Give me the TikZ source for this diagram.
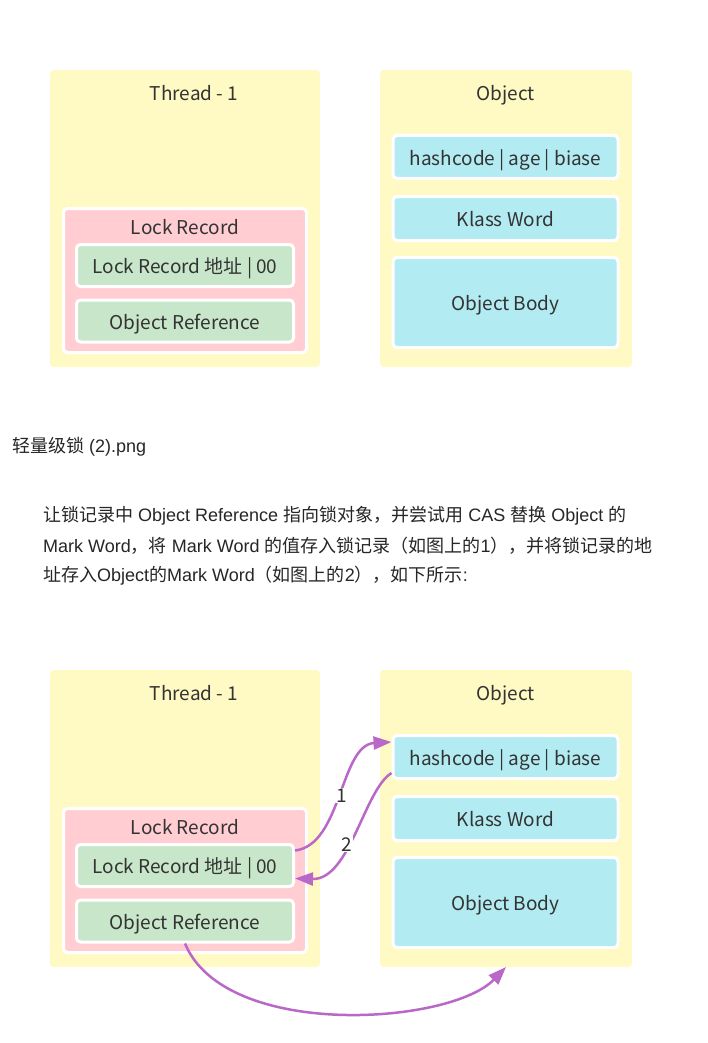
\documentclass[tikz,border=0pt]{standalone}
\usepackage{fontspec}
\setmainfont{Liberation Sans}
\newfontfamily\cjk{Noto Sans CJK SC}
\usetikzlibrary{arrows.meta, calc}
\definecolor{threadcolor}{HTML}{FFF9C4}
\definecolor{lockcolor}{HTML}{FFCDD2}
\definecolor{wordcolor}{HTML}{C8E6C9}
\definecolor{objcolor}{HTML}{B2EBF2}
\definecolor{arrowcolor}{HTML}{BA68C8}
\definecolor{textcolor}{HTML}{333333}
\newcommand\diagfont{\cjk\fontsize{19}{22}\selectfont}
\newcommand\parafont{\fontsize{18}{22}\selectfont}

\begin{document}
\begin{tikzpicture}[
    x=1pt, y=-1pt,
    frame/.style={fill=threadcolor, rounded corners=4pt, inner sep=0pt, outer sep=0pt},
    block/.style={draw=white, line width=3pt, rounded corners=4pt, inner sep=0pt, font=\diagfont, text=textcolor, text height=17pt, text depth=0.5pt},
    title/.style={font=\diagfont, text=textcolor, inner sep=0pt, anchor=base},
    para/.style={font=\parafont, text=black!85, anchor=west, inner sep=0pt},
    link/.style={draw=arrowcolor, line width=2.5pt, -{Triangle[length=18pt, width=13pt]}},
    numlabel/.style={fill=white, font=\diagfont, text=textcolor, inner sep=1pt},
]
    \path[fill=white, use as bounding box] (0, 0) rectangle (708, 1043);

    % Thread - 1 (before)
    \node[frame, minimum width=270pt, minimum height=297pt] (thread) at (185, 218.5) {};
    \node[title] (threadname) at (194, 100.5) {Thread - 1};
    \node[block, fill=lockcolor, minimum width=243pt, minimum height=144pt] (lockrec) at (185, 280.5) {};
    \node[title] (lockname) at (185, 234) {Lock Record};
    \node[block, fill=wordcolor, minimum width=217pt, minimum height=42pt] (lraddr) at (185, 265.5) {Lock Record 地址 | 00};
    \node[block, fill=wordcolor, minimum width=217pt, minimum height=42pt] (objref) at (185, 321) {Object Reference};

    % Object (before)
    \node[frame, minimum width=252pt, minimum height=297pt] (object) at (506, 218.5) {};
    \node[title] (objname) at (506, 100.5) {Object};
    \node[block, fill=objcolor, minimum width=225pt, minimum height=43pt] (markword) at (505.5, 157) {hashcode | age | biase};
    \node[block, fill=objcolor, minimum width=225pt, minimum height=44pt] (klass) at (505.5, 218.5) {Klass Word};
    \node[block, fill=objcolor, minimum width=225pt, minimum height=90pt] (body) at (505.5, 302.5) {Object Body};

    % Text
    \node[para] (caption) at (12, 447) {{\cjk 轻量级锁} (2).png};
    \node[para] (line1) at (43, 516) {{\cjk 让锁记录中} Object Reference {\cjk 指向锁对象，并尝试用} CAS {\cjk 替换} Object {\cjk 的}};
    \node[para] (line2) at (43, 546) {Mark Word{\cjk ，将} Mark Word {\cjk 的值存入锁记录（如图上的}1{\cjk ），并将锁记录的地}};
    \node[para] (line3) at (43, 576) {{\cjk 址存入}Object{\cjk 的}Mark Word{\cjk （如图上的}2{\cjk ），如下所示}:};

    % Thread - 1 (after)
    \node[frame, minimum width=270pt, minimum height=297pt] (thread2) at (185, 818.5) {};
    \node[title] (threadname2) at (194, 700.5) {Thread - 1};
    \node[block, fill=lockcolor, minimum width=243pt, minimum height=144pt] (lockrec2) at (185, 880.5) {};
    \node[title] (lockname2) at (185, 834) {Lock Record};
    \node[block, fill=wordcolor, minimum width=217pt, minimum height=42pt] (lraddr2) at (185, 865.5) {Lock Record 地址 | 00};
    \node[block, fill=wordcolor, minimum width=217pt, minimum height=42pt] (objref2) at (185, 921) {Object Reference};

    % Object (after)
    \node[frame, minimum width=252pt, minimum height=297pt] (object2) at (506, 818.5) {};
    \node[title] (objname2) at (506, 700.5) {Object};
    \node[block, fill=objcolor, minimum width=225pt, minimum height=43pt] (markword2) at (505.5, 757) {hashcode | age | biase};
    \node[block, fill=objcolor, minimum width=225pt, minimum height=44pt] (klass2) at (505.5, 818.5) {Klass Word};
    \node[block, fill=objcolor, minimum width=225pt, minimum height=90pt] (body2) at (505.5, 902.5) {Object Body};

    % Arrows
    \draw[link] ($(lraddr2.east)+(0,-15)$) .. controls (342, 845) and (340, 745) .. ($(markword2.west)+(0,-15)$)
        node[numlabel, pos=0.5] {1};
    \draw[link] ($(markword2.west)+(0,16)$) .. controls (364, 790) and (350, 880) .. ($(lraddr2.east)+(0,13)$)
        node[numlabel, pos=0.58] {2};
    \draw[link] (objref2.south) .. controls (225, 1040) and (450, 1025) .. (object2.south);
\end{tikzpicture}
\end{document}
